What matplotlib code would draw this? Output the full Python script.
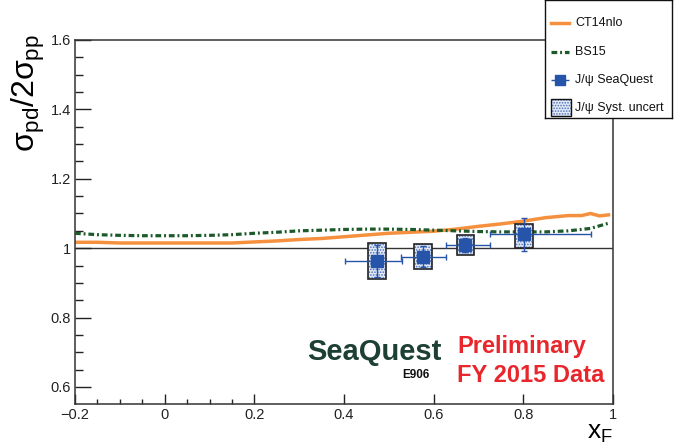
import numpy as np
import matplotlib
matplotlib.use("Agg")
import matplotlib.pyplot as plt
from matplotlib.patches import Rectangle
from matplotlib.ticker import FixedLocator, FuncFormatter

plt.rcParams['font.family'] = ['Liberation Sans', 'DejaVu Sans']
plt.rcParams['mathtext.fontset'] = 'custom'
plt.rcParams['mathtext.rm'] = 'Liberation Sans'
plt.rcParams['mathtext.it'] = 'Liberation Sans'
plt.rcParams['hatch.linewidth'] = 0.8

# CT14nlo curve
ct14_x = [-0.2, -0.15, -0.1, -0.05, 0.0, 0.05, 0.1, 0.15, 0.2, 0.25, 0.3, 0.35, 0.4, 0.45,
          0.5, 0.55, 0.6, 0.65, 0.7, 0.75, 0.8, 0.85, 0.9, 0.93, 0.95, 0.97, 0.99]
ct14_y = [1.017, 1.017, 1.015, 1.015, 1.015, 1.015, 1.015, 1.015, 1.018, 1.021, 1.025, 1.028,
          1.033, 1.038, 1.043, 1.046, 1.049, 1.055, 1.063, 1.070, 1.078, 1.088, 1.094, 1.094,
          1.100, 1.093, 1.096]

# BS15 curve
bs15_x = [-0.2, -0.15, -0.1, -0.05, 0.0, 0.05, 0.1, 0.15, 0.2, 0.25, 0.3, 0.35, 0.4, 0.45,
          0.5, 0.55, 0.6, 0.65, 0.7, 0.75, 0.8, 0.85, 0.9, 0.95, 0.99]
bs15_y = [1.043, 1.039, 1.037, 1.036, 1.036, 1.036, 1.037, 1.039, 1.043, 1.046, 1.050, 1.052,
          1.054, 1.055, 1.055, 1.054, 1.052, 1.050, 1.048, 1.047, 1.047, 1.047, 1.050, 1.057,
          1.072]

# J/psi SeaQuest points
xf = np.array([0.473, 0.577, 0.671, 0.801])
ratio = np.array([0.963, 0.976, 1.009, 1.040])
xf_lo = np.array([0.402, 0.527, 0.627, 0.726])
xf_hi = np.array([0.529, 0.627, 0.726, 0.952])
stat = np.array([0.045, 0.030, 0.020, 0.048])
syst = np.array([0.053, 0.035, 0.029, 0.034])
syst_center = np.array([0.963, 0.976, 1.009, 1.035])
box_halfwidth = 0.02

fig = plt.figure(figsize=(6.75, 4.48), dpi=100)
ax = fig.add_axes([75/675, 44/448, 538/675, 364/448])

blue = '#2554a8'
orange = '#f5913e'
green = '#1d5a2a'
bs_dash = (1.8, 0.9, 0.6, 0.9)

ax.axhline(1.0, color='#333333', lw=1.0, zorder=1)
ax.plot(ct14_x, ct14_y, color=orange, lw=2.5, zorder=2)
ax.plot(bs15_x, bs15_y, color=green, lw=2.3, dashes=bs_dash, zorder=3)

for i in range(len(xf)):
    r = Rectangle((xf[i] - box_halfwidth, syst_center[i] - syst[i]), 2*box_halfwidth, 2*syst[i],
                  facecolor='#e4eaf4', edgecolor='#4a72c0', hatch='......', lw=0, zorder=4)
    ax.add_patch(r)
    r2 = Rectangle((xf[i] - box_halfwidth, syst_center[i] - syst[i]), 2*box_halfwidth, 2*syst[i],
                   facecolor='none', edgecolor='#222222', lw=1.2, zorder=5)
    ax.add_patch(r2)

ax.errorbar(xf, ratio, xerr=[xf - xf_lo, xf_hi - xf], yerr=stat, fmt='s', color=blue,
            ms=8, elinewidth=1.0, capsize=2.5, capthick=1.0, zorder=6)

ax.set_xlim(-0.2, 1.0)
ax.set_ylim(0.551, 1.6)

ax.xaxis.set_major_locator(FixedLocator([-0.2, 0, 0.2, 0.4, 0.6, 0.8, 1.0]))
ax.xaxis.set_minor_locator(FixedLocator([-0.15, -0.1, -0.05, 0.05, 0.1, 0.15]))
ax.yaxis.set_major_locator(FixedLocator([0.6, 0.8, 1.0, 1.2, 1.4, 1.6]))
ax.yaxis.set_minor_locator(FixedLocator(np.arange(0.55, 1.6, 0.05)))
fmt = FuncFormatter(lambda v, p: ('%g' % round(v, 2)).replace('-', '\u2212'))
ax.xaxis.set_major_formatter(fmt)
ax.yaxis.set_major_formatter(fmt)

ax.tick_params(axis='both', which='both', direction='in', top=False, right=False,
               labelsize=10.5, colors='#222222', width=1.0)
ax.tick_params(axis='y', which='major', length=11.5, pad=3)
ax.tick_params(axis='y', which='minor', length=5.8)
ax.tick_params(axis='x', which='major', length=7.2, pad=3)
ax.tick_params(axis='x', which='minor', length=3.6)
for t in ax.xaxis.get_major_ticks():
    if t.get_loc() > 0.25:
        t.tick1line.set_visible(False)
for s in ax.spines.values():
    s.set_color('#333333')
    s.set_linewidth(1.1)

fig.text(28/675, 1 - 93/448, r'$\sigma_{pd}/2\sigma_{pp}$', rotation=90, fontsize=23,
         ha='center', va='center')
fig.text(587/675, 1 - 439/448, r'$x_F$', fontsize=19, ha='left', va='baseline')

# logo + preliminary label
ax.text(0.557, 0.121, 'SeaQuest', transform=ax.transAxes, fontsize=21, fontweight='bold',
        color='#1e3f33', ha='center', va='baseline')
ax.text(0.608, 0.071, 'E906', transform=ax.transAxes, fontsize=8.5, fontweight='bold',
        color='#111111', ha='left', va='baseline')
ax.text(0.710, 0.140, 'Preliminary', transform=ax.transAxes, fontsize=17, fontweight='bold',
        color='#e8262b', ha='left', va='baseline')
ax.text(0.710, 0.060, 'FY 2015 Data', transform=ax.transAxes, fontsize=17, fontweight='bold',
        color='#e8262b', ha='left', va='baseline')

# legend box
lax = fig.add_axes([545/675, 1 - 118/448, 127/675, 118/448])
lax.set_xlim(545, 672)
lax.set_ylim(118, 0)
lax.set_xticks([])
lax.set_yticks([])
for s in lax.spines.values():
    s.set_color('#111111')
    s.set_linewidth(1.0)
lax.plot([551, 569], [22.7, 22.7], color=orange, lw=2.5)
lax.plot([551, 569], [51.7, 51.7], color=green, lw=2.3, dashes=bs_dash)
lax.errorbar([560], [80], xerr=[[9], [9]], fmt='s', color=blue, ms=7, elinewidth=1.0)
lax.add_patch(Rectangle((551, 99), 20, 17, facecolor='#e4eaf4', edgecolor='#4a72c0',
                        hatch='......', lw=0))
lax.add_patch(Rectangle((551, 99), 20, 17, facecolor='none', edgecolor='#111111', lw=1.0))
leg_labels = ['CT14nlo', 'BS15', 'J/\u03c8 SeaQuest', 'J/\u03c8 Syst. uncert']
leg_y = [22.7, 51.7, 80, 108]
for lab, yy in zip(leg_labels, leg_y):
    lax.text(575, yy, lab, fontsize=9, ha='left', va='center', color='#111111')

fig.savefig('out.png', dpi=100)
